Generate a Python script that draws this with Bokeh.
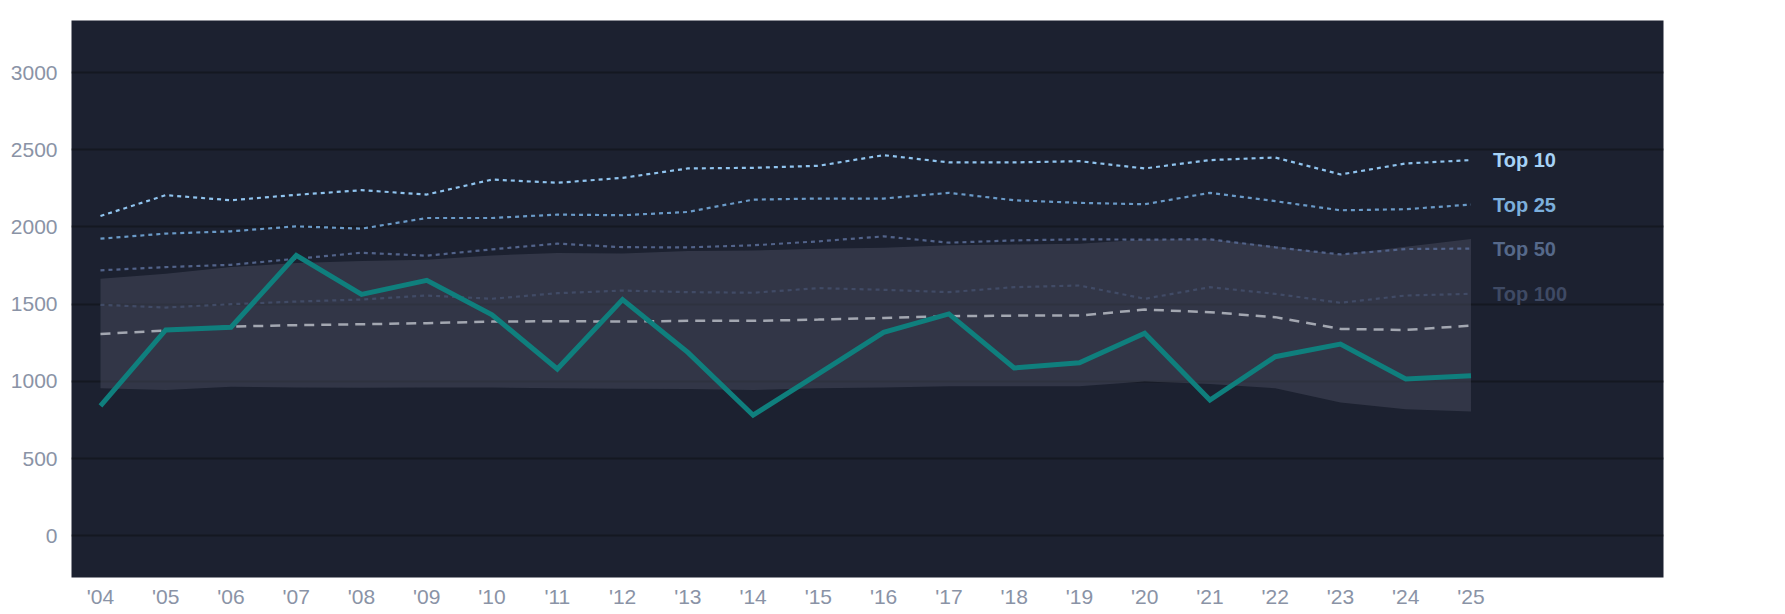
from bokeh.plotting import figure
from bokeh.models import Range1d, FixedTicker
from bokeh.core.properties import value
from bokeh.embed import file_html
from bokeh.resources import INLINE

years = list(range(2004, 2026))
year_labels = ["'04", "'05", "'06", "'07", "'08", "'09", "'10", "'11", "'12", "'13", "'14",
               "'15", "'16", "'17", "'18", "'19", "'20", "'21", "'22", "'23", "'24", "'25"]
y_ticks = [0, 500, 1000, 1500, 2000, 2500, 3000]

main_series = [842, 1333, 1351, 1816, 1563, 1654, 1431, 1080, 1530, 1188, 781, 1048,
               1318, 1437, 1087, 1121, 1312, 879, 1160, 1242, 1015, 1037]
top10 = [2071, 2206, 2173, 2208, 2238, 2210, 2307, 2286, 2318, 2379, 2383, 2396,
         2465, 2418, 2418, 2426, 2379, 2433, 2450, 2340, 2411, 2433]
top25 = [1924, 1957, 1972, 2004, 1989, 2058, 2058, 2080, 2076, 2097, 2177, 2184,
         2184, 2221, 2173, 2156, 2147, 2221, 2167, 2108, 2115, 2145]
top50 = [1719, 1740, 1755, 1794, 1833, 1814, 1855, 1892, 1869, 1868, 1881, 1907,
         1939, 1898, 1913, 1920, 1918, 1920, 1868, 1822, 1857, 1860]
top100 = [1496, 1478, 1500, 1517, 1530, 1556, 1535, 1571, 1588, 1578, 1574, 1604,
          1593, 1578, 1610, 1621, 1535, 1610, 1567, 1509, 1556, 1567]
median = [1307, 1329, 1355, 1364, 1370, 1377, 1387, 1390, 1387, 1392, 1392, 1400,
          1411, 1422, 1426, 1426, 1465, 1448, 1416, 1340, 1333, 1361]
band_low = [955, 944, 965, 961, 959, 961, 961, 955, 952, 950, 944, 955,
            961, 968, 968, 968, 1000, 983, 955, 864, 820, 805]
band_high = [1664, 1697, 1740, 1766, 1779, 1788, 1816, 1831, 1828, 1844, 1848, 1859,
             1866, 1881, 1887, 1892, 1918, 1920, 1875, 1822, 1872, 1922]

tier_names = ["Top 10", "Top 25", "Top 50", "Top 100"]
tier_series = [top10, top25, top50, top100]
tier_line_colors = ["#90c4ef", "#6a9ac8", "#52638a", "#414b66"]
tier_label_colors = ["#a6d2f6", "#7cafdc", "#56698a", "#3f4a64"]

FONT = "Liberation Sans"

p = figure(width=1769, height=610,
           x_range=Range1d(2003.556, 2027.95), y_range=Range1d(-270, 3337),
           output_backend="svg", toolbar_location=None,
           min_border_left=71, min_border_right=106, min_border_top=20, min_border_bottom=0,
           background_fill_color="#1c2130", border_fill_color="#ffffff")
p.outline_line_color = None

# grid
p.xgrid.grid_line_color = None
p.ygrid.grid_line_color = "#141821"
p.ygrid.grid_line_width = 2

# axes
for ax in (p.xaxis[0], p.yaxis[0]):
    ax.axis_line_color = None
    ax.major_tick_line_color = None
    ax.minor_tick_line_color = None
    ax.major_label_text_color = "#8a93a6"
    ax.major_label_text_font = FONT
    ax.major_label_text_font_size = "21px"
p.yaxis.ticker = FixedTicker(ticks=y_ticks)
p.yaxis.major_label_standoff = 8
p.xaxis.ticker = FixedTicker(ticks=years)
p.xaxis.major_label_overrides = {y: l for y, l in zip(years, year_labels)}
p.xaxis.major_label_standoff = 1

# band
p.varea(x=years, y1=band_low, y2=band_high, fill_color="#474c5e", fill_alpha=0.5)

# tier lines
widths = [2.2, 2.2, 2.2, 2.2]
for s, c, w in zip(tier_series, tier_line_colors, widths):
    p.line(years, s, line_color=c, line_width=w, line_dash="4 4")

# median
p.line(years, median, line_color="#a3a7b1", line_width=2.5, line_dash="10 7")

# main line
p.line(years, main_series, line_color="#0f7f7d", line_width=5, line_join="miter")

# labels
p.text(x=[years[-1]] * 4, y=[s[-1] for s in tier_series], text=tier_names,
       text_color=tier_label_colors, x_offset=22, text_align="left",
       text_baseline="middle", text_font=value(FONT), text_font_size="20px",
       text_font_style="bold")

open("out.html", "w").write(file_html(p, INLINE))
